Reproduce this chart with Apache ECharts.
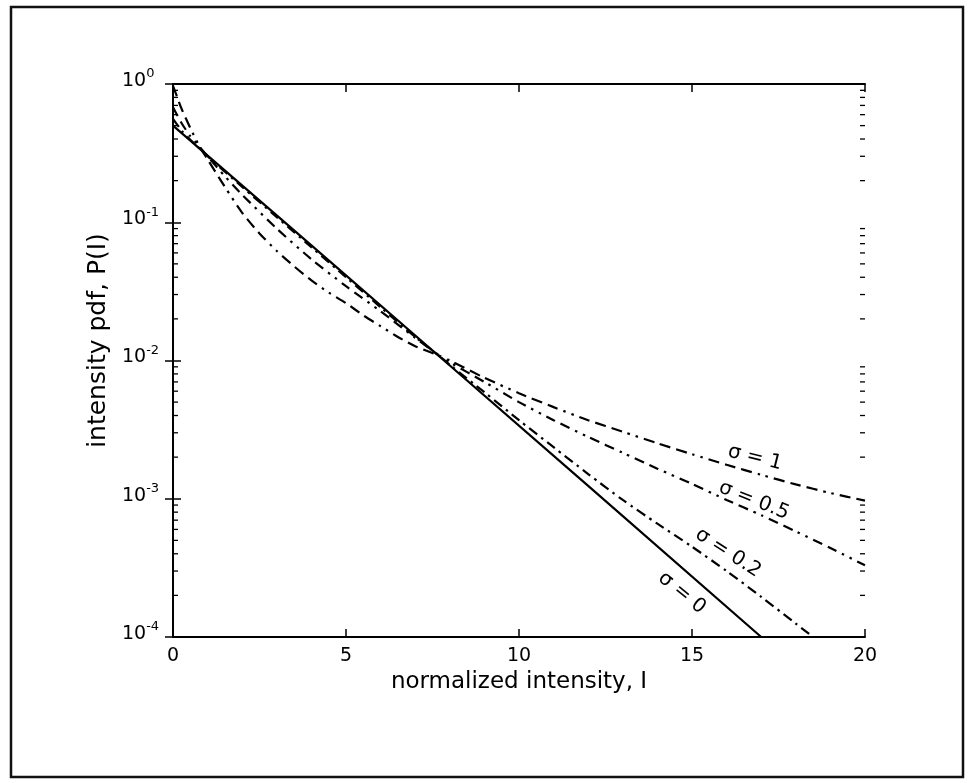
<!DOCTYPE html>
<html>
<head>
    <meta charset="utf-8"/>
    <title>intensity pdf</title>
    <script src="https://cdn.jsdelivr.net/npm/echarts/dist/echarts.min.js"></script>
    <style>
        html, body { margin: 0; padding: 0; background: #fff; }
        #main { width: 974px; height: 783px; }
    </style>
</head>
<body>
<div id="main"></div>
<script type="text/javascript">
    // tick values
    var xTicks = [0, 5, 10, 15, 20];
    var yTickExp = [-4, -3, -2, -1, 0];
    var yMinorTicks = [2e-4, 3e-4, 4e-4, 5e-4, 6e-4, 7e-4, 8e-4, 9e-4,
        2e-3, 3e-3, 4e-3, 5e-3, 6e-3, 7e-3, 8e-3, 9e-3,
        0.02, 0.03, 0.04, 0.05, 0.06, 0.07, 0.08, 0.09,
        0.2, 0.3, 0.4, 0.5, 0.6, 0.7, 0.8, 0.9];

    // curves: normalized intensity I, pdf P(I)
    var sigma0I = [0, 4, 8, 12, 17];
    var sigma0P = [0.5, 0.068, 0.0092, 0.00124, 0.0001];

    var sigma02I = [0, 0.25, 0.5, 0.75, 1, 2, 3, 4, 5, 6, 7, 7.7, 8, 9, 10, 11, 12, 13, 14, 15, 16, 17, 18, 18.5, 19];
    var sigma02P = [0.56, 0.46, 0.395, 0.345, 0.300, 0.180, 0.109, 0.066, 0.040, 0.0243, 0.0148, 0.0108, 0.0093,
        0.0059, 0.0037, 0.00236, 0.00151, 0.00098, 0.00066, 0.00045, 0.00030, 0.000195, 0.000125, 0.0001, 0.00008];

    var sigma05I = [0, 0.25, 0.5, 0.75, 1, 1.5, 2, 3, 4, 5, 6, 7, 7.7, 8, 9, 10, 11, 12, 13, 14, 15, 16, 17, 18, 19, 20];
    var sigma05P = [0.68, 0.52, 0.42, 0.355, 0.30, 0.215, 0.158, 0.090, 0.054, 0.0345, 0.0227, 0.0146, 0.0108, 0.0097,
        0.0070, 0.0050, 0.0037, 0.0028, 0.00215, 0.00165, 0.00128, 0.00098, 0.00076, 0.00058, 0.00044, 0.00033];

    var sigma1I = [0, 0.1, 0.25, 0.5, 0.75, 1, 1.5, 2, 2.5, 3, 3.5, 4, 4.5, 5, 5.5, 6, 6.5, 7, 7.7, 8, 9, 10, 11, 12,
        13, 14, 15, 16, 17, 18, 19, 20];
    var sigma1P = [0.97, 0.83, 0.66, 0.48, 0.36, 0.285, 0.18, 0.117, 0.083, 0.062, 0.048, 0.038, 0.031, 0.026, 0.0212,
        0.0177, 0.0148, 0.0127, 0.0108, 0.0100, 0.0075, 0.0058, 0.0046, 0.0037, 0.00305, 0.00252, 0.00210, 0.00176,
        0.00149, 0.00127, 0.00110, 0.00097];

    // curve labels
    var sigmaNames = ['σ = 1', 'σ = 0.5', 'σ = 0.2', 'σ = 0'];
    var sigmaLabelAt = [[16.82, 1.98e-3], [16.79, 9.7e-4], [16.04, 4.06e-4], [14.71, 2.08e-4]];
    var sigmaLabelTilt = [14, 22, 33, 39];

    function pairs(xs, ys) {
        return xs.map(function (x, i) { return [x, ys[i]]; });
    }

    var font = '"DejaVu Sans", "Liberation Sans", Arial, sans-serif';
    var boxLine = {show: true, lineStyle: {color: '#000', width: 2}};
    var tickIn = {show: true, inside: true, length: 8, lineStyle: {color: '#000', width: 1.5}};

    var myChart = echarts.init(document.getElementById('main'));
    var option = {
        animation: false,
        backgroundColor: '#fff',
        grid: {left: 173, right: 109, top: 84, bottom: 146},
        xAxis: [{
            type: 'value', min: xTicks[0], max: xTicks[xTicks.length - 1], interval: xTicks[1] - xTicks[0],
            position: 'bottom',
            axisLine: boxLine, axisTick: tickIn,
            axisLabel: {margin: 10, fontSize: 19, color: '#000', fontFamily: font},
            splitLine: {show: false},
            name: 'normalized intensity, I', nameLocation: 'middle', nameGap: 33,
            nameTextStyle: {fontSize: 23, color: '#000', fontFamily: font}
        }, {
            type: 'value', min: xTicks[0], max: xTicks[xTicks.length - 1], interval: xTicks[1] - xTicks[0],
            position: 'top',
            axisLine: boxLine, axisTick: tickIn,
            axisLabel: {show: false}, splitLine: {show: false}
        }],
        yAxis: [{
            type: 'log', logBase: 10, min: Math.pow(10, yTickExp[0]), max: Math.pow(10, yTickExp[yTickExp.length - 1]),
            position: 'left',
            axisLine: boxLine, axisTick: tickIn,
            axisLabel: {
                margin: 51, align: 'left', color: '#000', padding: [0, 0, 6, 0],
                formatter: function (v) {
                    return '{b|10}{s|' + Math.round(Math.log10(v)) + '}';
                },
                rich: {
                    b: {fontSize: 19, lineHeight: 19, fontFamily: font, color: '#000', verticalAlign: 'bottom'},
                    s: {fontSize: 13, lineHeight: 13, fontFamily: font, color: '#000', verticalAlign: 'bottom',
                        padding: [0, 0, 10, 0]}
                }
            },
            splitLine: {show: false},
            name: 'intensity pdf, P(I)', nameLocation: 'middle', nameGap: 53,
            nameTextStyle: {fontSize: 25, color: '#000', fontFamily: font, padding: [0, 0, 0, 40]}
        }, {
            type: 'log', logBase: 10, min: Math.pow(10, yTickExp[0]), max: Math.pow(10, yTickExp[yTickExp.length - 1]),
            position: 'right',
            axisLine: boxLine, axisTick: tickIn,
            axisLabel: {show: false}, splitLine: {show: false}
        }],
        series: [
            {
                name: 'σ = 0', type: 'line', data: pairs(sigma0I, sigma0P),
                symbol: 'none', lineStyle: {color: '#000', width: 2.2, type: 'solid'}, z: 4
            },
            {
                name: 'σ = 0.2', type: 'line', data: pairs(sigma02I, sigma02P), smooth: 0.25,
                symbol: 'none', lineStyle: {color: '#000', width: 2.2, type: [10, 5, 2.5, 5]}
            },
            {
                name: 'σ = 0.5', type: 'line', data: pairs(sigma05I, sigma05P), smooth: 0.25,
                symbol: 'none', lineStyle: {color: '#000', width: 2.2, type: [10, 6, 10, 6, 2.5, 6, 2.5, 6]}
            },
            {
                name: 'σ = 1', type: 'line', data: pairs(sigma1I, sigma1P), smooth: 0.25,
                symbol: 'none', lineStyle: {color: '#000', width: 2.2, type: [11, 6, 11, 6, 11, 6, 2.5, 6, 2.5, 6]}
            },
            {
                // minor log ticks, left and right
                type: 'custom', silent: true, clip: false, z: 3,
                data: yMinorTicks.map(function (v) { return [0, v]; }),
                renderItem: function (params, api) {
                    var l = api.coord([xTicks[0], api.value(1)]);
                    var r = api.coord([xTicks[xTicks.length - 1], api.value(1)]);
                    var st = {stroke: '#000', lineWidth: 1.3};
                    return {
                        type: 'group', children: [
                            {type: 'line', shape: {x1: l[0], y1: l[1], x2: l[0] + 5, y2: l[1]}, style: st},
                            {type: 'line', shape: {x1: r[0], y1: r[1], x2: r[0] - 5, y2: r[1]}, style: st}
                        ]
                    };
                }
            }
        ]
    };
    myChart.setOption(option);

    // curve labels and outer frame
    var graphics = sigmaNames.map(function (t, i) {
        var p = myChart.convertToPixel({gridIndex: 0}, sigmaLabelAt[i]);
        return {
            type: 'text', x: p[0], y: p[1], rotation: -sigmaLabelTilt[i] * Math.PI / 180,
            style: {
                text: t, fontSize: 20, fontFamily: font, fill: '#000',
                align: 'center', verticalAlign: 'middle', textAlign: 'center', textVerticalAlign: 'middle'
            }
        };
    });
    graphics.push({
        type: 'rect', shape: {x: 11, y: 7, width: 952, height: 770},
        style: {fill: 'none', stroke: '#111', lineWidth: 2.5}
    });
    myChart.setOption({graphic: graphics});
</script>
</body>
</html>
